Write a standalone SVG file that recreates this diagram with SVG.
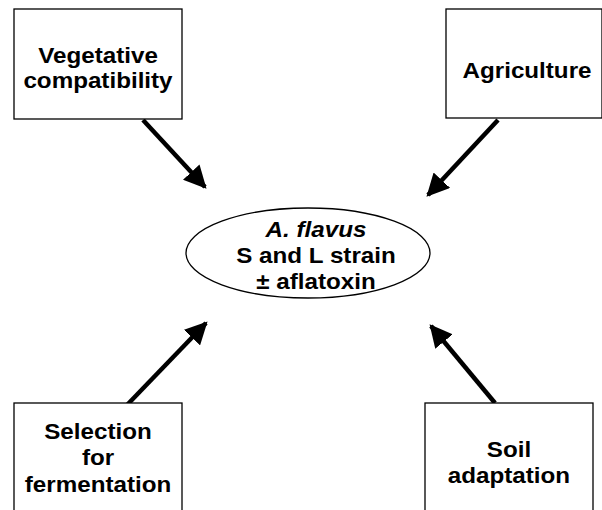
<svg xmlns="http://www.w3.org/2000/svg" width="602" height="510" viewBox="0 0 602 510">
<defs>
<style>
.box{fill:#fff;stroke:#000;stroke-width:1.3}
.t{font-family:"Liberation Sans",Arial,sans-serif;font-weight:bold;font-size:22px;text-anchor:middle;fill:#000}
.c{stroke:#000;stroke-width:4.5;fill:none}
</style>
<marker id="ah" viewBox="0 0 10 10" refX="9" refY="5" markerWidth="5" markerHeight="5" orient="auto" markerUnits="strokeWidth">
<path d="M0,0 L10,5 L0,10 z" fill="#000"/>
</marker>
</defs>
<rect width="602" height="510" fill="#fff"/>
<g id="connectors">
<line class="c" x1="143" y1="120" x2="205" y2="187" marker-end="url(#ah)"/>
<line class="c" x1="498" y1="120" x2="428" y2="195" marker-end="url(#ah)"/>
<line class="c" x1="127" y1="405" x2="206" y2="323" marker-end="url(#ah)"/>
<line class="c" x1="495" y1="403" x2="431" y2="326" marker-end="url(#ah)"/>
</g>
<g id="veg">
<rect class="box" x="14" y="9" width="168" height="110"/>
<g transform="translate(98 0) scale(1.1 1)">
<text class="t" x="0" y="63">Vegetative</text>
<text class="t" x="0" y="88">compatibility</text>
</g>
</g>
<g id="agri">
<rect class="box" x="446" y="9" width="156" height="109"/>
<g transform="translate(527 0) scale(1.1 1)">
<text class="t" x="0" y="78">Agriculture</text>
</g>
</g>
<g id="center">
<ellipse cx="308" cy="253" rx="122" ry="45" fill="#fff" stroke="#000" stroke-width="1.3"/>
<g transform="translate(316 0) scale(1.1 1)">
<text class="t" x="0" y="237" font-style="italic">A. flavus</text>
<text class="t" x="0" y="263">S and L strain</text>
<text class="t" x="0" y="289">± aflatoxin</text>
</g>
</g>
<g id="sel">
<rect class="box" x="14" y="403" width="168" height="115"/>
<g transform="translate(98 0) scale(1.1 1)">
<text class="t" x="0" y="439">Selection</text>
<text class="t" x="0" y="465">for</text>
<text class="t" x="0" y="492">fermentation</text>
</g>
</g>
<g id="soil">
<rect class="box" x="425" y="403" width="168" height="115"/>
<g transform="translate(509 0) scale(1.1 1)">
<text class="t" x="0" y="457">Soil</text>
<text class="t" x="0" y="483">adaptation</text>
</g>
</g>
</svg>
